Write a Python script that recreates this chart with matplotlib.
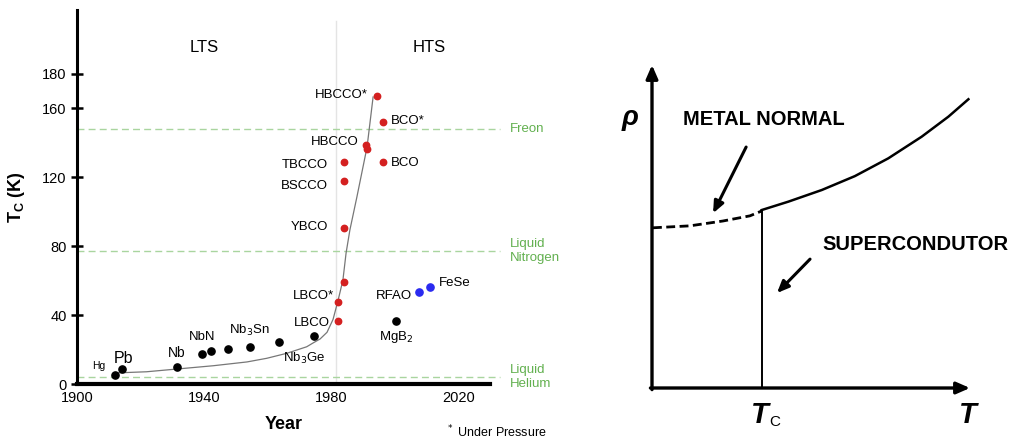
import matplotlib.pyplot as plt
import numpy as np

plt.rcParams['font.family'] = ['Liberation Sans', 'DejaVu Sans']

# ---- left panel: Tc vs year ----
black_year = [1912.0, 1914.2, 1931.5, 1939.3, 1942.2, 1947.5, 1954.5, 1963.6, 1974.6, 2000.4]
black_tc = [5.2, 8.7, 9.9, 17.4, 19.1, 20.3, 21.5, 24.4, 27.9, 36.6]
red_year = [1982.2, 1982.2, 1984.0, 1984.0, 1984.0, 1984.0, 1991.0, 1991.3, 1996.3, 1996.3, 1994.3]
red_tc = [36.6, 47.6, 59.2, 90.5, 117.8, 128.8, 138.7, 136.3, 128.8, 151.9, 167.1]
blue_year = [2007.6, 2011.1]
blue_tc = [53.4, 56.3]

trend_year = [1912.0, 1921.9, 1931.5, 1942.9, 1953.5, 1959.7, 1966.0, 1972.3, 1974.3,
              1976.5, 1978.7, 1980.6, 1982.2, 1983.7, 1984.7, 1985.9, 1988.1, 1991.3, 1993.2]
trend_tc = [6.4, 7.1, 8.7, 10.6, 12.8, 14.9, 17.8, 21.6, 23.8,
            26.1, 30.0, 37.5, 48.7, 60.3, 76.0, 89.4, 108.5, 137.5, 166.5]

coolants = ['Freon', 'Liquid\nNitrogen', 'Liquid\nHelium']
coolant_tc = [148, 77, 4.2]

# label, x, y, ha, size
labels = [
    ('Hg', 1906.8, 10.5, 'center', 7.5),
    ('Pb', 1914.5, 14.8, 'center', 11.5),
    ('Nb', 1931.3, 18.0, 'center', 10),
    ('NbN', 1939.5, 27.0, 'center', 9.5),
    ('Nb$_3$Sn', 1954.3, 31.0, 'center', 9.5),
    ('Nb$_3$Ge', 1971.5, 15.0, 'center', 9.5),
    ('LBCO', 1979.5, 35.5, 'right', 9.5),
    ('LBCO*', 1981.0, 51.0, 'right', 9.5),
    ('YBCO', 1979.0, 91.0, 'right', 9.5),
    ('BSCCO', 1979.0, 115.0, 'right', 9.5),
    ('TBCCO', 1979.0, 127.0, 'right', 9.5),
    ('HBCCO', 1988.5, 140.5, 'right', 9.5),
    ('HBCCO*', 1991.5, 167.5, 'right', 9.5),
    ('BCO*', 1998.8, 152.5, 'left', 9.5),
    ('BCO', 1998.8, 128.3, 'left', 9.5),
    ('RFAO', 2005.3, 51.0, 'right', 9.5),
    ('FeSe', 2013.8, 58.5, 'left', 9.5),
    ('MgB$_2$', 2000.5, 27.5, 'center', 9.5),
]

# ---- right panel: resistivity schematic ----
dash_T = [0.003, 0.119, 0.223, 0.308, 0.345]
dash_rho = [0.496, 0.502, 0.517, 0.533, 0.548]
solid_T = [0.345, 0.429, 0.534, 0.638, 0.743, 0.848, 0.932, 0.995]
solid_rho = [0.551, 0.577, 0.613, 0.656, 0.711, 0.778, 0.840, 0.894]
Tc = 0.346

fig = plt.figure(figsize=(10.19, 4.41), dpi=100)

ax = fig.add_axes([77 / 1019, 57 / 441, 413 / 1019, 374 / 441])
ax.set_xlim(1900, 2030)
ax.set_ylim(0, 217)
for s in ['top', 'right']:
    ax.spines[s].set_visible(False)
ax.spines['left'].set_linewidth(2.2)
ax.spines['bottom'].set_linewidth(3)
ax.set_xticks([1900, 1940, 1980, 2020])
ax.set_yticks([0, 40, 80, 120, 160, 180])
ax.tick_params(axis='y', direction='inout', length=9, width=1.8, labelsize=10.5, pad=3)
ax.tick_params(axis='x', length=0, labelsize=10.5, pad=5)

ax.axvline(1981.5, ymax=0.97, color='#e4e4e4', lw=1, zorder=0)
for name, tc in zip(coolants, coolant_tc):
    ax.plot([1900, 2033], [tc, tc], color='#a9d59f', lw=1, ls=(0, (5, 3)),
            clip_on=False, zorder=1)
    ax.text(2036.3, tc, name, color='#62b04f', fontsize=9.5, va='center', ha='left')

ax.plot(trend_year, trend_tc, color='#777777', lw=0.9, zorder=2)
ax.plot(black_year, black_tc, 'o', color='black', ms=5.2, zorder=3)
ax.plot(red_year, red_tc, 'o', color='#d42020', ms=4.6, zorder=3)
ax.plot(blue_year, blue_tc, 'o', color='#2a2af0', ms=5.2, zorder=3)

for txt, x, y, ha, size in labels:
    ax.text(x, y, txt, ha=ha, va='center', fontsize=size)

ax.text(1940, 195.5, 'LTS', ha='center', va='center', fontsize=12)
ax.text(2011, 195.5, 'HTS', ha='center', va='center', fontsize=12)
ax.set_xlabel('Year', fontsize=13, fontweight='bold', labelpad=8)
ax.set_ylabel('T$_\\mathregular{C}$ (K)', fontsize=13, fontweight='bold', labelpad=11)
ax.text(2016, -28, '$^*$ Under Pressure', fontsize=9, ha='left', va='center', clip_on=False)

# right schematic
bx = fig.add_axes([652 / 1019, 53 / 441, 318 / 1019, 323 / 441])
bx.set_xlim(0, 1)
bx.set_ylim(0, 1)
bx.axis('off')
bx.annotate('', xy=(1.0, 0), xytext=(-0.005, 0),
            arrowprops=dict(arrowstyle='-|>,head_length=0.8,head_width=0.35', lw=2.4,
                            color='black', shrinkA=0, shrinkB=0), annotation_clip=False)
bx.annotate('', xy=(0, 1.0), xytext=(0, -0.005),
            arrowprops=dict(arrowstyle='-|>,head_length=0.8,head_width=0.35', lw=2.4,
                            color='black', shrinkA=0, shrinkB=0), annotation_clip=False)
bx.plot(dash_T, dash_rho, color='black', lw=2.0, ls=(0, (3.2, 1.6)))
bx.plot(solid_T, solid_rho, color='black', lw=1.8, solid_joinstyle='round')
bx.plot([Tc, Tc], [0, solid_rho[0]], color='black', lw=1.4)

bx.annotate('', xy=(0.192, 0.541), xytext=(0.296, 0.746),
            arrowprops=dict(arrowstyle='-|>,head_length=0.7,head_width=0.3', lw=2.2,
                            color='black', shrinkA=0, shrinkB=0))
bx.annotate('', xy=(0.393, 0.294), xytext=(0.497, 0.399),
            arrowprops=dict(arrowstyle='-|>,head_length=0.7,head_width=0.3', lw=2.2,
                            color='black', shrinkA=0, shrinkB=0))

bx.text(-0.069, 0.836, 'ρ', fontsize=20, fontweight='bold', style='italic',
        ha='center', va='center')
bx.text(0.097, 0.830, 'METAL NORMAL', fontsize=14.5, fontweight='bold', ha='left', va='center')
bx.text(0.535, 0.443, 'SUPERCONDUTOR', fontsize=14.5, fontweight='bold', ha='left', va='center',
        clip_on=False)
bx.text(0.338, -0.085, 'T', fontsize=21, fontweight='bold', style='italic',
        ha='center', va='center')
bx.text(0.368, -0.105, 'C', fontsize=11, ha='left', va='center')
bx.text(0.994, -0.085, 'T', fontsize=21, fontweight='bold', style='italic',
        ha='center', va='center')

fig.savefig('out.png', dpi=100)
